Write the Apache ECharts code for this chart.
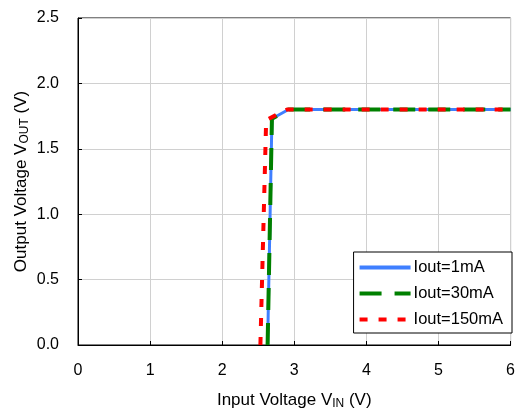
<!DOCTYPE html>
<html>
<head>
<meta charset="utf-8">
<script src="https://cdn.jsdelivr.net/npm/echarts@6/dist/echarts.min.js"></script>
<style>
html,body{margin:0;padding:0;background:#fff;}
#chart{width:518px;height:415px;}
</style>
</head>
<body>
<div id="chart"></div>
<script>
// Data
var seriesNames = ['Iout=1mA', 'Iout=30mA', 'Iout=150mA'];
var vin1 = [2.63, 2.69, 2.92, 6.0];
var vout1 = [0.0, 1.73, 1.80, 1.80];
var vin30 = [2.63, 2.69, 2.92, 6.0];
var vout30 = [0.0, 1.73, 1.80, 1.80];
var vin150 = [2.53, 2.61, 2.90, 6.0];
var vout150 = [0.0, 1.72, 1.80, 1.80];
var xTicks = [0, 1, 2, 3, 4, 5, 6];
var yTicks = [0.0, 0.5, 1.0, 1.5, 2.0, 2.5];

function pairs(xs, ys) { return xs.map(function (x, i) { return [x, ys[i]]; }); }

var FONT = '"Liberation Sans", Arial, Helvetica, sans-serif';
var chart = echarts.init(document.getElementById('chart'), null, {renderer: 'canvas'});
var option = {
  animation: false,
  backgroundColor: '#fff',
  textStyle: {fontFamily: FONT},
  grid: {left: 78, right: 5, top: 18, bottom: 67, show: true, borderColor: '#000', borderWidth: 1, backgroundColor: 'transparent'},
  xAxis: {
    type: 'value', min: xTicks[0], max: xTicks[xTicks.length - 1], interval: 1,
    axisLine: {show: true, lineStyle: {color: '#000', width: 1}},
    axisTick: {show: true, inside: true, length: 4, lineStyle: {color: '#000'}},
    axisLabel: {color: '#000', fontSize: 16, fontFamily: FONT, margin: 18},
    splitLine: {show: true, lineStyle: {color: '#d0d0d0', width: 1}},
    name: 'Input Voltage V{sub|IN} (V)',
    nameLocation: 'middle', nameGap: 46, nameMoveOverlap: false,
    nameTextStyle: {color: '#000', fontSize: 17, fontFamily: FONT,
      rich: {sub: {fontSize: 12, fontFamily: FONT, color: '#000', padding: [7, 0, 0, 0]}}}
  },
  yAxis: {
    type: 'value', min: yTicks[0], max: yTicks[yTicks.length - 1], interval: 0.5,
    axisLine: {show: true, lineStyle: {color: '#000', width: 1}},
    axisTick: {show: true, inside: true, length: 4, lineStyle: {color: '#000'}},
    axisLabel: {color: '#000', fontSize: 16, fontFamily: FONT, margin: 19,
      formatter: function (v) { return v.toFixed(1); }},
    splitLine: {show: true, lineStyle: {color: '#d0d0d0', width: 1}},
    name: 'Output Voltage V{sub|OUT} (V)',
    nameLocation: 'middle', nameGap: 47, nameRotate: 90, nameMoveOverlap: false,
    nameTextStyle: {color: '#000', fontSize: 17, fontFamily: FONT,
      rich: {sub: {fontSize: 12, fontFamily: FONT, color: '#000', padding: [7, 0, 0, 0]}}}
  },
  legend: {
    orient: 'vertical', right: 6, bottom: 82,
    data: seriesNames,
    itemWidth: 51, itemHeight: 16, itemGap: 9,
    padding: [7, 9, 5, 4],
    borderColor: '#000', borderWidth: 1, borderRadius: 0,
    backgroundColor: '#fff',
    itemStyle: {opacity: 0},
    lineStyle: {width: 4},
    textStyle: {color: '#000', fontSize: 16.5, fontFamily: FONT, padding: [0, 0, 0, -2]}
  },
  series: [
    {name: seriesNames[0], type: 'line', data: pairs(vin1, vout1), symbol: 'none', z: 2,
      lineStyle: {color: '#3f7fff', width: 3, type: 'solid'}, itemStyle: {color: '#3f7fff'}},
    {name: seriesNames[1], type: 'line', data: pairs(vin30, vout30), symbol: 'none', z: 3,
      lineStyle: {color: '#008000', width: 4, type: [22, 13]}, itemStyle: {color: '#008000'}},
    {name: seriesNames[2], type: 'line', data: pairs(vin150, vout150), symbol: 'none', z: 4,
      lineStyle: {color: '#ff0000', width: 4, type: [8, 11]}, itemStyle: {color: '#ff0000'}}
  ]
};
chart.setOption(option);
</script>
</body>
</html>
